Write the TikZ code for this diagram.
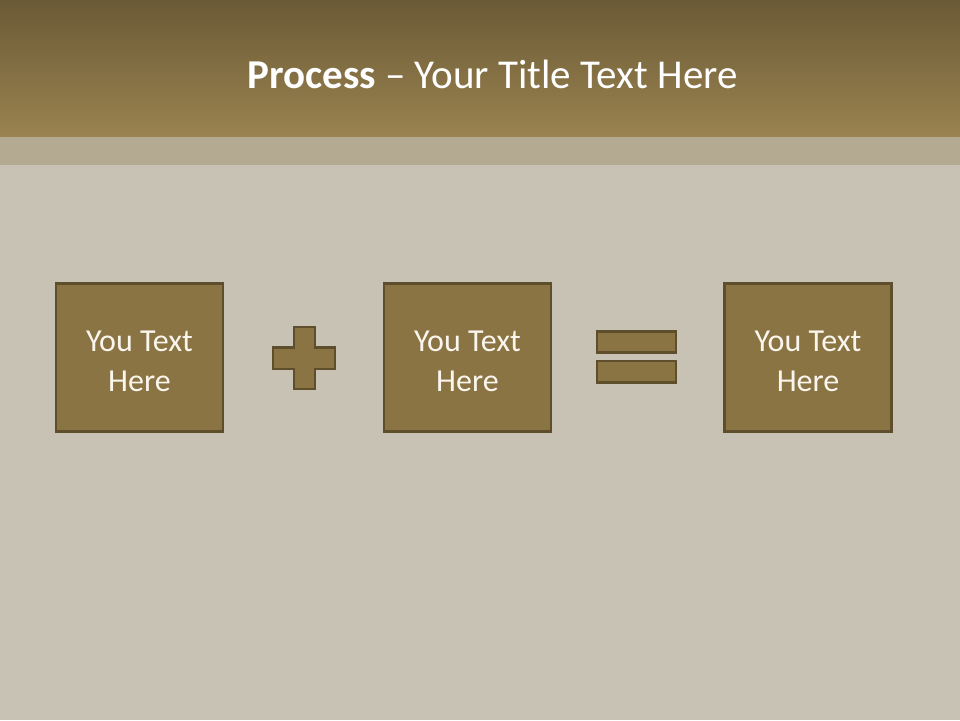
\documentclass[tikz,border=0pt]{standalone}
\usepackage{fontspec}
\setmainfont{Carlito}
\definecolor{topbrown}{HTML}{6B5A36}
\definecolor{botbrown}{HTML}{9A8350}
\definecolor{stripcol}{HTML}{B4AA92}
\definecolor{bgcol}{HTML}{C7C2B3}
\definecolor{boxfill}{HTML}{8B7444}
\definecolor{boxline}{HTML}{5F4E2C}
\definecolor{txtcol}{HTML}{FAF6EE}
\tikzset{
  stepbox/.style={draw=boxline, line width=2.5pt, fill=boxfill, minimum width=167pt, minimum height=148pt, inner sep=0pt, align=center, text=txtcol, font=\fontsize{32}{40}\selectfont},
  signpart/.style={draw=boxline, line width=2.5pt, fill=boxfill}
}
\newcommand{\boxtxt}{\rule{0pt}{28pt}You Text\\Here}
\begin{document}
\begin{tikzpicture}[x=1pt,y=1pt]
\useasboundingbox (0,0) rectangle (960,-720);
\fill[bgcol] (0,0) rectangle (960,-720);
\shade[top color=topbrown, bottom color=botbrown] (0,0) rectangle (960,-137);
\fill[stripcol] (0,-137) rectangle (960,-165);
\node[text=white, font=\fontsize{41}{48}\selectfont, anchor=base] (title) at (492.5,-88) {\textbf{Process} -- Your Title Text Here};
\node[stepbox] (b1) at (139.5,-357.5) {\boxtxt};
\node[stepbox] (b2) at (467.5,-357.5) {\boxtxt};
\node[stepbox] (b3) at (808,-357.5) {\boxtxt};
\draw[signpart] (294,-327) -- (315,-327) -- (315,-347.5) -- (335,-347.5) -- (335,-369) -- (315,-369) -- (315,-389) -- (294,-389) -- (294,-369) -- (273,-369) -- (273,-347.5) -- (294,-347.5) -- cycle;
\draw[signpart] (597,-331.5) rectangle (676,-352.5);
\draw[signpart] (597,-361) rectangle (676,-382.5);
\end{tikzpicture}
\end{document}
